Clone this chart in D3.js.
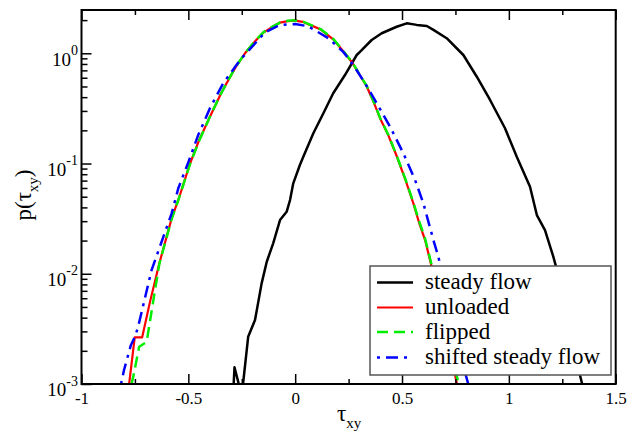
<!DOCTYPE html>
<html>
<head>
<meta charset="utf-8">
<script src="https://cdn.jsdelivr.net/npm/d3@7"></script>
<style>
  body { margin: 0; background: #fff; }
  svg { display: block; font-family: "Liberation Serif", "Times New Roman", serif; }
</style>
</head>
<body>
<script>
// distributions p(tau_xy) as [tau, p]
const steadyFlow = [
  [-0.289, 0.0009], [-0.284, 0.00142], [-0.258, 0.0009], [-0.244, 0.001], [-0.220, 0.00268],
  [-0.188, 0.0038], [-0.157, 0.00818], [-0.133, 0.01285], [-0.103, 0.0189], [-0.071, 0.0307],
  [-0.040, 0.0365], [-0.024, 0.0467], [-0.009, 0.0661], [0.022, 0.0969], [0.038, 0.115],
  [0.085, 0.188], [0.132, 0.286], [0.178, 0.434], [0.233, 0.635], [0.288, 0.965],
  [0.303, 1.03], [0.358, 1.32], [0.405, 1.52], [0.475, 1.74], [0.522, 1.87],
  [0.569, 1.81], [0.616, 1.77], [0.647, 1.63], [0.709, 1.37], [0.787, 0.965],
  [0.850, 0.613], [0.912, 0.377], [0.982, 0.209], [1.037, 0.115], [1.099, 0.0615],
  [1.131, 0.0341], [1.169, 0.0249], [1.208, 0.0143], [1.263, 0.00577], [1.301, 0.0025],
  [1.333, 0.0012], [1.343, 0.001]
];

const unloaded = [
  [-0.777, 0.001], [-0.751, 0.00265], [-0.716, 0.00265], [-0.680, 0.0055], [-0.636, 0.0124],
  [-0.578, 0.0318], [-0.547, 0.0467], [-0.492, 0.100], [-0.450, 0.162], [-0.399, 0.266],
  [-0.350, 0.42], [-0.321, 0.534], [-0.280, 0.74], [-0.235, 1.0], [-0.190, 1.27],
  [-0.149, 1.54], [-0.110, 1.72], [-0.071, 1.90], [-0.035, 1.96], [0, 1.98],
  [0.035, 1.93], [0.069, 1.81], [0.120, 1.64], [0.178, 1.34], [0.220, 1.07],
  [0.265, 0.834], [0.300, 0.645], [0.335, 0.50], [0.370, 0.35], [0.397, 0.258],
  [0.436, 0.18], [0.475, 0.117], [0.515, 0.072], [0.553, 0.0435], [0.580, 0.029],
  [0.608, 0.0202], [0.650, 0.0094], [0.680, 0.0053], [0.710, 0.0028], [0.735, 0.0016],
  [0.757, 0.001]
];

const flipped = [
  [-0.766, 0.001], [-0.758, 0.00116], [-0.730, 0.00218], [-0.695, 0.00241], [-0.656, 0.0071],
  [-0.636, 0.0122], [-0.578, 0.0315], [-0.547, 0.0465], [-0.492, 0.099], [-0.450, 0.160],
  [-0.399, 0.266], [-0.350, 0.42], [-0.321, 0.535], [-0.280, 0.745], [-0.235, 1.0],
  [-0.190, 1.28], [-0.149, 1.55], [-0.110, 1.73], [-0.071, 1.90], [-0.035, 1.97],
  [0, 1.99], [0.035, 1.94], [0.069, 1.82], [0.120, 1.65], [0.178, 1.35],
  [0.220, 1.08], [0.265, 0.84], [0.300, 0.65], [0.335, 0.505], [0.370, 0.355],
  [0.397, 0.26], [0.436, 0.182], [0.475, 0.118], [0.515, 0.073], [0.553, 0.0445],
  [0.580, 0.030], [0.608, 0.0208], [0.650, 0.0098], [0.680, 0.0056], [0.710, 0.0030],
  [0.740, 0.0016], [0.765, 0.001]
];

const shiftedSteadyFlow = [
  [-0.815, 0.001], [-0.801, 0.00134], [-0.769, 0.00225], [-0.750, 0.00268], [-0.735, 0.0033],
  [-0.672, 0.0108], [-0.578, 0.0353], [-0.547, 0.0596], [-0.499, 0.104], [-0.454, 0.181],
  [-0.399, 0.317], [-0.337, 0.534], [-0.258, 0.869], [-0.141, 1.55], [-0.071, 1.81],
  [0, 1.84], [0.060, 1.76], [0.116, 1.52], [0.155, 1.37], [0.225, 1.03],
  [0.272, 0.783], [0.327, 0.534], [0.382, 0.352], [0.444, 0.216], [0.506, 0.124],
  [0.561, 0.0709], [0.600, 0.0435], [0.647, 0.0202], [0.670, 0.0143], [0.725, 0.0047],
  [0.770, 0.0019], [0.810, 0.001]
];

const xMajorTicks = [-1, -0.5, 0, 0.5, 1, 1.5];
const xMinorTicks = [-0.75, -0.25, 0.25, 0.75, 1.25];
const yMajorTicks = [1e-3, 1e-2, 1e-1, 1];
const yTickExponents = ['-3', '-2', '-1', '0'];

const series = [
  { name: 'steady flow', data: steadyFlow, color: '#000000', dash: null, width: 2.5 },
  { name: 'unloaded', data: unloaded, color: '#ff0000', dash: null, width: 2.2 },
  { name: 'flipped', data: flipped, color: '#00ee00', dash: '11,6', width: 2.5 },
  { name: 'shifted steady flow', data: shiftedSteadyFlow, color: '#0000ff', dash: '3,6,12,6', width: 2.5 }
];

var width = 628, height = 434;
// plot box (window.top is taken, so use own names)
var plotLeft = 81.5, plotRight = 615.7, plotTop = 10, plotBottom = 384;

var x = d3.scaleLinear().domain([-1, 1.5]).range([plotLeft, plotRight]);
var y = d3.scaleLog().domain([1e-3, 2.47]).range([plotBottom, plotTop]);

// minor log ticks 2..9 in each decade
var yMinorTicks = [];
[1e-3, 1e-2, 1e-1, 1].forEach(function (d) {
  for (var k = 2; k <= 9; k++) {
    if (k * d <= 2.47) yMinorTicks.push(k * d);
  }
});

var svg = d3.select('body').append('svg')
  .attr('width', width)
  .attr('height', height);

svg.append('defs').append('clipPath').attr('id', 'plot')
  .append('rect')
  .attr('x', plotLeft).attr('y', plotTop)
  .attr('width', plotRight - plotLeft).attr('height', plotBottom - plotTop);

// curves
var line = d3.line()
  .x(d => x(d[0]))
  .y(d => y(d[1]));

svg.append('g')
  .attr('clip-path', 'url(#plot)')
  .selectAll('path')
  .data(series)
  .join('path')
  .attr('d', d => line(d.data))
  .attr('fill', 'none')
  .attr('stroke', d => d.color)
  .attr('stroke-width', d => d.width)
  .attr('stroke-dasharray', d => d.dash)
  .attr('stroke-linejoin', 'round');

// axes
function styleAxis(g) {
  g.select('.domain').remove();
  g.selectAll('.tick line').attr('stroke', '#000').attr('stroke-width', 1.5);
}

svg.append('g')
  .attr('transform', 'translate(0,' + plotBottom + ')')
  .call(d3.axisBottom(x).tickValues(xMajorTicks).tickSize(-10).tickPadding(8)
    .tickFormat(d => String(d)))
  .call(styleAxis)
  .call(g => g.selectAll('.tick text')
    .attr('fill', '#000')
    .style('font-family', '"Liberation Serif", serif')
    .style('font-size', '17px'));

svg.append('g')
  .attr('transform', 'translate(0,' + plotBottom + ')')
  .call(d3.axisBottom(x).tickValues(xMinorTicks).tickSize(-5).tickFormat(''))
  .call(styleAxis);

svg.append('g')
  .attr('transform', 'translate(0,' + plotTop + ')')
  .call(d3.axisTop(x).tickValues(xMajorTicks).tickSize(-10).tickFormat(''))
  .call(styleAxis);

svg.append('g')
  .attr('transform', 'translate(0,' + plotTop + ')')
  .call(d3.axisTop(x).tickValues(xMinorTicks).tickSize(-5).tickFormat(''))
  .call(styleAxis);

svg.append('g')
  .attr('transform', 'translate(' + plotLeft + ',0)')
  .call(d3.axisLeft(y).tickValues(yMajorTicks).tickSize(-10).tickFormat(''))
  .call(styleAxis);

svg.append('g')
  .attr('transform', 'translate(' + plotLeft + ',0)')
  .call(d3.axisLeft(y).tickValues(yMinorTicks).tickSize(-6).tickFormat(''))
  .call(styleAxis);

// y tick labels as 10 with a superscript
var yLabels = svg.append('g').selectAll('text')
  .data(yMajorTicks)
  .join('text')
  .attr('x', 78)
  .attr('y', d => y(d) + 12.4)
  .attr('text-anchor', 'end')
  .attr('fill', '#000');
yLabels.append('tspan').style('font-size', '19px').text('10');
yLabels.append('tspan').style('font-size', '14px').attr('dy', -10.7)
  .text((d, i) => yTickExponents[i]);

// frame
svg.append('rect')
  .attr('x', plotLeft).attr('y', plotTop)
  .attr('width', plotRight - plotLeft).attr('height', plotBottom - plotTop)
  .attr('fill', 'none')
  .attr('stroke', '#000')
  .attr('stroke-width', 2);

// axis titles
var xTitle = svg.append('text')
  .attr('x', 349).attr('y', 421)
  .attr('text-anchor', 'middle')
  .attr('fill', '#000');
xTitle.append('tspan').style('font-size', '23px').text('τ');
xTitle.append('tspan').style('font-size', '15px').attr('dy', 7).text('xy');

var yTitle = svg.append('text')
  .attr('transform', 'translate(31,195) rotate(-90)')
  .attr('text-anchor', 'middle')
  .attr('fill', '#000')
  .style('font-size', '23px');
yTitle.append('tspan').text('p(τ');
yTitle.append('tspan').style('font-size', '15px').attr('dy', 7).text('xy');
yTitle.append('tspan').attr('dy', -7).text(')');

// legend
var legend = svg.append('g');
legend.append('rect')
  .attr('x', 370).attr('y', 266)
  .attr('width', 241).attr('height', 109)
  .attr('fill', '#fff')
  .attr('stroke', '#555')
  .attr('stroke-width', 1.5);

var legendRows = [282.5, 307.5, 332, 357.5];
var entry = legend.selectAll('g.entry')
  .data(series)
  .join('g')
  .attr('class', 'entry')
  .attr('transform', (d, i) => 'translate(0,' + legendRows[i] + ')');

entry.append('line')
  .attr('x1', 377).attr('x2', 413)
  .attr('y1', 0).attr('y2', 0)
  .attr('stroke', d => d.color)
  .attr('stroke-width', d => d.width)
  .attr('stroke-dasharray', d => d.dash);

entry.append('text')
  .attr('x', 425).attr('y', 6.5)
  .attr('fill', '#000')
  .style('font-size', '23px')
  .text(d => d.name);
</script>
</body>
</html>
